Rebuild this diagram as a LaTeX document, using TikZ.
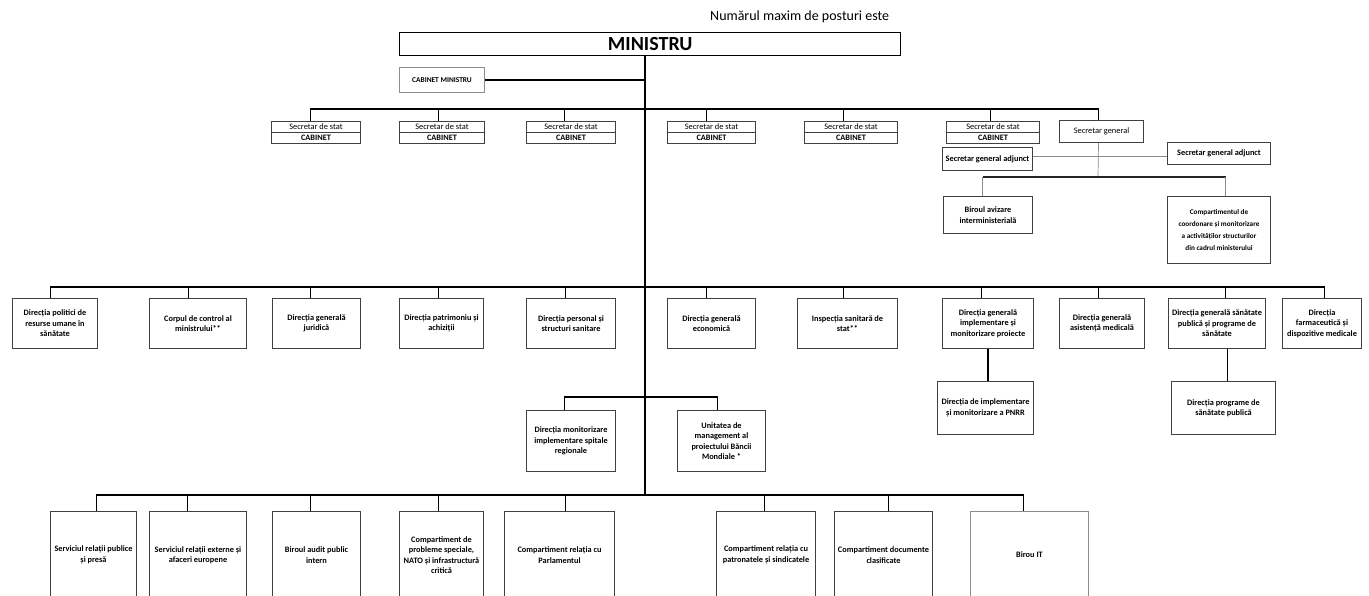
\documentclass[tikz,border=0pt]{standalone}
\usepackage{fontspec}
\setmainfont{Carlito}
\definecolor{bdr}{gray}{0.25}
\definecolor{lgr}{gray}{0.55}
\newcommand\obox[7][]{\node[box,anchor=north west,minimum width={#5-#3},minimum height={#6-#4},#1] (#2) at (#3,#4) {#7};}
\begin{document}
\begin{tikzpicture}[x=1pt,y=-1pt,
  box/.style={draw=bdr, line width=1pt, fill=white, inner sep=1pt, align=center, font=\fontsize{8.3}{10.5}\selectfont\bfseries},
  reg/.style={font=\fontsize{8.4}{10}\selectfont},
  bus/.style={line width=1.8pt, black},
  thinl/.style={line width=0.7pt, lgr},
  midl/.style={line width=1.1pt, black!85}]
\clip (0,0) rectangle (1369,596);
\fill[white] (0,0) rectangle (1369,596);

% top
\node[anchor=west, font=\fontsize{14}{16}\selectfont, inner sep=0pt] (note) at (710,17) {Numărul maxim de posturi este};
\obox[font=\fontsize{20}{22}\selectfont\bfseries, line width=1.3pt, draw=black]{min}{399}{32}{900}{55}{MINISTRU}
\obox[font=\fontsize{7.4}{9}\selectfont\bfseries, draw=lgr]{cm}{399}{67}{484}{92}{CABINET MINISTRU}

% secretari de stat
\obox[reg]{ss1t}{271}{121}{360}{132}{Secretar de stat}
\obox{ss1b}{271}{132}{360}{143}{CABINET}
\obox[reg]{ss2t}{399}{121}{484}{132}{Secretar de stat}
\obox{ss2b}{399}{132}{484}{143}{CABINET}
\obox[reg]{ss3t}{526}{121}{615}{132}{Secretar de stat}
\obox{ss3b}{526}{132}{615}{143}{CABINET}
\obox[reg]{ss4t}{667}{121}{755}{132}{Secretar de stat}
\obox{ss4b}{667}{132}{755}{143}{CABINET}
\obox[reg]{ss5t}{804}{121}{897}{132}{Secretar de stat}
\obox{ss5b}{804}{132}{897}{143}{CABINET}
\obox[reg]{ss6t}{946}{121}{1039}{132}{Secretar de stat}
\obox{ss6b}{946}{132}{1039}{143}{CABINET}
\obox[reg]{sg}{1059}{120}{1143}{142}{Secretar general}
\obox{sga1}{942}{147}{1032}{170}{Secretar general adjunct}
\obox{sga2}{1167}{142}{1270}{164}{Secretar general adjunct}
\obox{ba}{943}{196}{1032}{233}{Biroul avizare\\interministerială}
\obox[font=\fontsize{7.2}{11.7}\selectfont\bfseries]{cc}{1167}{196}{1270}{263}{Compartimentul de\\coordonare și monitorizare\\a activităților structurilor\\din cadrul ministerului}

% row 2
\obox{r2a}{12}{298}{97}{348}{Direcția politici de\\resurse umane în\\sănătate}
\obox{r2b}{149}{298}{246}{348}{Corpul de control al\\ministrului**}
\obox{r2c}{272}{298}{360}{348}{Direcția generală\\juridică}
\obox{r2d}{399}{298}{483}{348}{Direcția patrimoniu și\\achiziții}
\obox{r2e}{526}{298}{615}{348}{Direcția personal și\\structuri sanitare}
\obox{r2f}{667}{298}{755}{348}{Direcția generală\\economică}
\obox{r2g}{797}{298}{897}{348}{Inspecția sanitară de\\stat**}
\obox{r2h}{942}{298}{1033}{348}{Direcția generală\\implementare și\\monitorizare proiecte}
\obox{r2i}{1059}{298}{1144}{348}{Direcția generală\\asistență medicală}
\obox{r2j}{1168}{298}{1265}{348}{Direcția generală sănătate\\publică și programe de\\sănătate}
\obox{r2k}{1282}{298}{1361}{348}{Direcția\\farmaceutică și\\dispozitive medicale}

\obox{s1}{937}{381}{1033}{434}{Direcția de implementare\\și monitorizare a PNRR}
\obox{s2}{1171}{381}{1275}{434}{Direcția programe de\\sănătate publică}

\obox{m1}{526}{410}{615}{471}{Direcția monitorizare\\implementare spitale\\regionale}
\obox{m2}{677}{410}{765}{471}{Unitatea de\\management al\\proiectului Băncii\\Mondiale *}

% bottom row
\obox{b1}{50}{511}{136}{598}{Serviciul relații publice\\și presă}
\obox{b2}{149}{511}{246}{598}{Serviciul relații externe și\\afaceri europene}
\obox{b3}{272}{511}{360}{598}{Biroul audit public\\intern}
\obox{b4}{399}{511}{483}{598}{Compartiment de\\probleme speciale,\\NATO și infrastructură\\critică}
\obox{b5}{504}{511}{614}{598}{Compartiment relația cu\\Parlamentul}
\obox{b6}{716}{511}{815}{598}{Compartiment relația cu\\patronatele și sindicatele}
\obox{b7}{834}{511}{932}{598}{Compartiment documente\\clasificate}
\obox[draw=lgr]{b8}{970}{511}{1088}{598}{Birou IT}

% bus coordinates
\coordinate (sbus) at (645,109);
\coordinate (rbus) at (645,287);
\coordinate (mbus) at (645,397);
\coordinate (bbus) at (645,495);
\coordinate (gbus) at (1098,177);

% connectors
\draw[bus] (min.south -| bbus) -- (bbus);
\draw[bus] (cm.east) -- (cm.east -| bbus);

\draw[bus] ([xshift=-5.5pt]ss1t.north) |- ([xshift=-3pt]sg.north |- sbus) -- ([xshift=-3pt]sg.north);
\draw[bus] ([xshift=-3.5pt]ss2t.north) -- ([xshift=-3.5pt]ss2t.north |- sbus);
\draw[bus] ([xshift=-6.5pt]ss3t.north) -- ([xshift=-6.5pt]ss3t.north |- sbus);
\draw[bus] ([xshift=-5pt]ss4t.north) -- ([xshift=-5pt]ss4t.north |- sbus);
\draw[bus] ([xshift=-7.5pt]ss5t.north) -- ([xshift=-7.5pt]ss5t.north |- sbus);
\draw[bus] ([xshift=-2.5pt]ss6t.north) -- ([xshift=-2.5pt]ss6t.north |- sbus);

\draw[thinl] ([xshift=-3pt]sg.south) -- (gbus);
\draw[thinl] ([yshift=2.5pt]sga1.east) -- ([yshift=2.5pt]sga1.east -| sga2.west);
\draw[midl] ([xshift=-5.5pt]ba.north |- gbus) -- ([xshift=6.5pt]cc.north |- gbus);
\draw[thinl] ([xshift=-5.5pt]ba.north) -- ([xshift=-5.5pt]ba.north |- gbus);
\draw[thinl] ([xshift=6.5pt]cc.north) -- ([xshift=6.5pt]cc.north |- gbus);

\draw[bus] ([xshift=-4.5pt]r2a.north) |- ([xshift=2.5pt]r2k.north |- rbus) -- ([xshift=2.5pt]r2k.north);
\draw[bus] ([xshift=-9.5pt]r2b.north) -- ([xshift=-9.5pt]r2b.north |- rbus);
\draw[bus] ([xshift=-6pt]r2c.north) -- ([xshift=-6pt]r2c.north |- rbus);
\draw[bus] ([xshift=-3pt]r2d.north) -- ([xshift=-3pt]r2d.north |- rbus);
\draw[bus] ([xshift=-5.5pt]r2e.north) -- ([xshift=-5.5pt]r2e.north |- rbus);
\draw[bus] ([xshift=-5pt]r2f.north) -- ([xshift=-5pt]r2f.north |- rbus);
\draw[bus] ([xshift=-4pt]r2g.north) -- ([xshift=-4pt]r2g.north |- rbus);
\draw[bus] ([xshift=-6.5pt]r2h.north) -- ([xshift=-6.5pt]r2h.north |- rbus);
\draw[bus] ([xshift=-3.5pt]r2i.north) -- ([xshift=-3.5pt]r2i.north |- rbus);
\draw[bus] ([xshift=8.5pt]r2j.north) -- ([xshift=8.5pt]r2j.north |- rbus);

\draw[bus] (r2h.south) -- (r2h.south |- s1.north);
\draw[bus] ([xshift=4pt]s2.north) -- ([xshift=4pt]s2.north |- r2j.south);

\draw[bus] ([xshift=-6.5pt]m1.north) |- ([xshift=-4pt]m2.north |- mbus) -- ([xshift=-4pt]m2.north);

\draw[bus] ([xshift=3pt]b1.north) |- ([xshift=-6pt]b8.north |- bbus) -- ([xshift=-6pt]b8.north);
\draw[bus] ([xshift=-10.5pt]b2.north) -- ([xshift=-10.5pt]b2.north |- bbus);
\draw[bus] ([xshift=-6pt]b3.north) -- ([xshift=-6pt]b3.north |- bbus);
\draw[bus] ([xshift=-3pt]b4.north) -- ([xshift=-3pt]b4.north |- bbus);
\draw[bus] ([xshift=6pt]b5.north) -- ([xshift=6pt]b5.north |- bbus);
\draw[bus] ([xshift=-1.5pt]b6.north) -- ([xshift=-1.5pt]b6.north |- bbus);
\draw[bus] ([xshift=5pt]b7.north) -- ([xshift=5pt]b7.north |- bbus);
\end{tikzpicture}
\end{document}
